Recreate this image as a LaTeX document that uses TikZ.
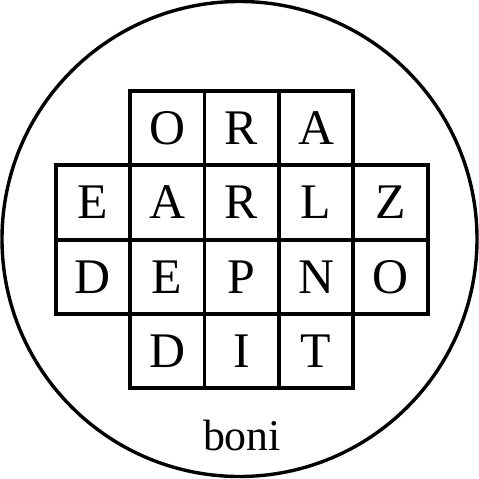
\documentclass[tikz,border=0pt]{standalone}
\usepackage{fontspec}
\setmainfont{Liberation Serif}
\begin{document}
\begin{tikzpicture}[x=1bp,y=-1bp,
  cell/.style={draw,line width=3.8bp,minimum width=74.4bp,minimum height=74.3bp,inner sep=0pt,font=\fontsize{50}{50}\selectfont},
  ring/.style={draw,line width=3.4bp}]
\useasboundingbox (0,0) rectangle (479,479);
\node[ring,circle,minimum size=475bp,inner sep=0pt] (ring) at (239.5,239) {};
% row 1
\node[cell] (r1c2) at (167.2,128.2) {O};
\node[cell] (r1c3) at (241.6,128.2) {R};
\node[cell] (r1c4) at (316.0,128.2) {A};
% row 2
\node[cell] (r2c1) at (92.8,202.5) {E};
\node[cell] (r2c2) at (167.2,202.5) {A};
\node[cell] (r2c3) at (241.6,202.5) {R};
\node[cell] (r2c4) at (316.0,202.5) {L};
\node[cell] (r2c5) at (390.4,202.5) {Z};
% row 3
\node[cell] (r3c1) at (92.8,276.8) {D};
\node[cell] (r3c2) at (167.2,276.8) {E};
\node[cell] (r3c3) at (241.6,276.8) {P};
\node[cell] (r3c4) at (316.0,276.8) {N};
\node[cell] (r3c5) at (390.4,276.8) {O};
% row 4
\node[cell] (r4c2) at (167.2,351.1) {D};
\node[cell] (r4c3) at (241.6,351.1) {I};
\node[cell] (r4c4) at (316.0,351.1) {T};
\node[anchor=base,inner sep=0pt,font=\fontsize{44}{44}\selectfont] (label) at (242,450) {boni};
\end{tikzpicture}
\end{document}
